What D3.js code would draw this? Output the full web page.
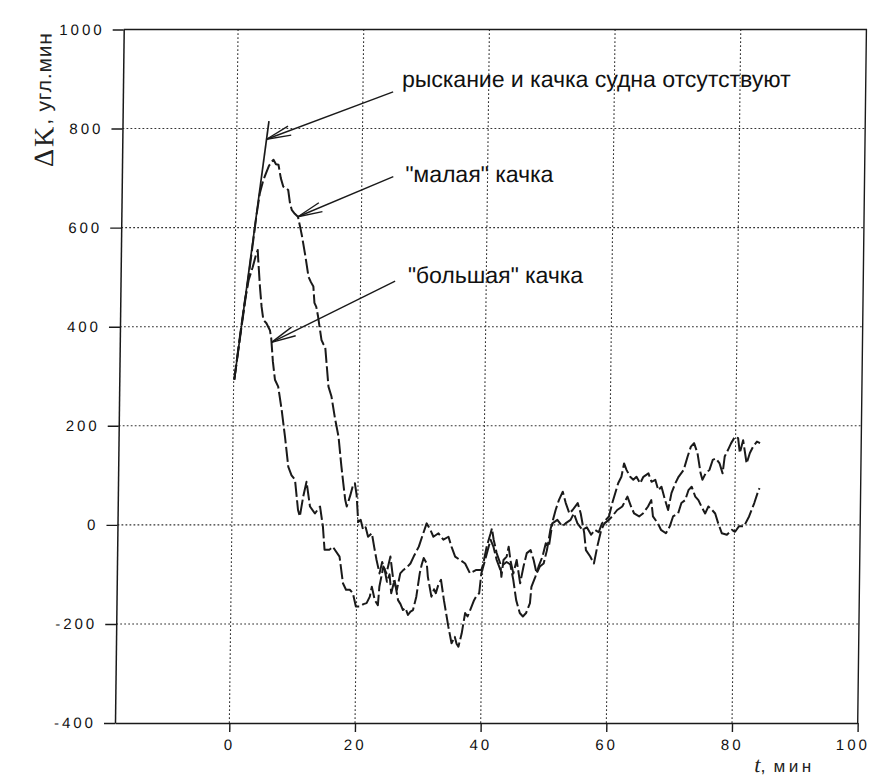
<!DOCTYPE html>
<html>
<head>
<meta charset="utf-8">
<script src="https://cdn.jsdelivr.net/npm/d3@7"></script>
<style>
  html, body { margin: 0; padding: 0; background: #fff; }
  svg { display: block; }
</style>
</head>
<body>
<svg id="chart" width="873" height="778"></svg>
<script>
// Axis ticks
const xTicks = [0, 20, 40, 60, 80, 100];
const yTicks = [-400, -200, 0, 200, 400, 600, 800, 1000];

// Heading error ΔK (угл. мин) against time t (мин)
// no yaw and no rolling
const noMotion = [[0.1, 293], [5.1, 815]];

// "малая" качка
const smallRoll = [
  [0.1, 293], [0.8, 365], [1.6, 445], [2.2, 505], [2.8, 570], [3.3, 625], [3.8, 670],
  [4.3, 695], [4.8, 712], [5.2, 725], [5.6, 733], [5.9, 737], [6.3, 728], [6.7, 727],
  [7.1, 700], [7.5, 683], [7.9, 680], [8.3, 676], [8.6, 650], [8.9, 636], [9.4, 628],
  [9.9, 622], [10.3, 600], [10.6, 582], [11.2, 540], [11.7, 501], [12.1, 490], [12.5, 481],
  [12.7, 448], [13.0, 440], [13.3, 421], [13.9, 373], [14.2, 365], [14.5, 360], [15.1, 279],
  [15.6, 259], [16.2, 215], [16.8, 178], [17.3, 120], [17.65, 84], [18.0, 50], [18.25, 37],
  [18.8, 60], [19.2, 80], [19.5, 84], [19.8, 60], [20.1, 6], [20.5, 10], [20.9, -10],
  [21.3, -5], [21.7, -24], [22.3, -17], [22.7, -45], [23.1, -71], [23.6, -98], [24.0, -75],
  [24.4, -90], [24.8, -115], [25.2, -100], [25.5, -138], [26.0, -111], [26.6, -152],
  [27.0, -160], [27.4, -172], [27.8, -168], [28.2, -182], [28.6, -175], [29.0, -172],
  [29.5, -145], [30.0, -98], [30.3, -80], [30.6, -67], [31.1, -78], [31.3, -105],
  [31.9, -145], [32.3, -130], [32.6, -138], [33.0, -120], [33.4, -111], [33.9, -152],
  [34.3, -180], [34.65, -205], [35.2, -239], [35.7, -226], [36.0, -240], [36.3, -246],
  [36.8, -219], [37.3, -178], [37.7, -185], [38.1, -172], [38.7, -152], [39.0, -145],
  [39.5, -138], [39.8, -98], [40.1, -84], [40.6, -60], [41.2, -30], [41.7, -45],
  [42.2, -70], [42.8, -90], [43.3, -80], [43.8, -75], [44.4, -80], [44.9, -111],
  [45.4, -152], [46.0, -178], [46.5, -185], [47.0, -178], [47.6, -158], [47.8, -125],
  [48.4, -105], [48.9, -84], [49.5, -64], [50.0, -37], [50.5, -44], [51.0, 3], [51.8, 10],
  [52.6, -3], [53.1, 3], [53.9, 10], [54.4, 23], [55.0, 3], [55.8, -10], [56.5, -5],
  [57.2, -20], [57.8, -10], [58.4, -15], [58.9, 3], [59.5, 10], [60.0, 17], [60.5, 44],
  [61.4, 84], [61.9, 97], [62.3, 124], [62.7, 111], [63.3, 97], [63.8, 91], [64.3, 97],
  [64.9, 84], [65.4, 97], [66.2, 104], [66.7, 87], [67.3, 91], [67.8, 70], [68.3, 77],
  [68.9, 50], [69.4, 30], [69.9, 64], [70.5, 84], [71.0, 97], [71.8, 111], [72.4, 138],
  [72.9, 158], [73.4, 165], [73.96, 145], [74.5, 104], [74.8, 91], [75.3, 104],
  [75.9, 111], [76.4, 131], [76.9, 134], [77.5, 124], [78.0, 104], [78.3, 138],
  [78.8, 151], [79.3, 165], [79.9, 178], [80.4, 175], [80.7, 145], [81.2, 171],
  [81.8, 124], [82.3, 145], [82.8, 158], [83.4, 168], [83.9, 165]
];

// "большая" качка
const largeRoll = [
  [0.1, 293], [1.0, 390], [1.64, 454], [2.2, 495], [2.8, 520], [3.3, 545], [3.57, 555],
  [3.67, 535], [4.0, 480], [4.3, 440], [4.6, 414], [5.1, 407], [5.67, 393], [5.9, 376],
  [6.2, 330], [6.57, 293], [7.1, 279], [7.7, 232], [8.28, 178], [8.87, 117], [9.4, 100],
  [9.96, 91], [10.5, 30], [10.8, 17], [11.3, 57], [11.8, 87], [12.4, 37], [13.2, 23],
  [14.0, 37], [14.5, -4], [14.8, -50], [15.6, -50], [16.1, -44], [17.2, -64], [17.8, -118],
  [18.3, -131], [18.9, -131], [19.4, -138], [19.9, -165], [20.5, -165], [21.1, -160],
  [21.6, -158], [22.1, -145], [22.4, -125], [22.9, -152], [23.4, -162], [23.6, -125],
  [24.2, -84], [24.7, -98], [25.3, -64], [25.8, -111], [26.4, -131], [26.9, -98],
  [27.4, -91], [28.0, -85], [28.5, -78], [29.0, -64], [29.8, -44], [30.3, -24], [31.0, 3],
  [31.6, -10], [32.1, -24], [32.9, -17], [33.7, -30], [34.5, -24], [35.0, -44], [35.6, -64],
  [36.4, -71], [37.2, -78], [38.0, -98], [39.0, -91], [39.8, -91], [40.1, -78], [40.6, -44],
  [41.2, -17], [41.4, -7], [41.7, -30], [42.2, -57], [42.8, -78], [43.0, -105], [43.3, -71],
  [43.8, -64], [44.1, -44], [44.4, -71], [44.9, -98], [45.4, -71], [46.0, -118], [46.5, -84],
  [47.0, -57], [47.6, -51], [48.1, -71], [48.6, -98], [49.1, -84], [49.7, -78], [50.2, -51],
  [50.7, -10], [51.5, 30], [52.0, 50], [52.6, 67], [53.1, 44], [53.7, 23], [54.2, 30],
  [55.0, 44], [55.5, 23], [56.1, -17], [56.4, -51], [57.1, -64], [57.7, -78], [58.2, -44],
  [58.8, -10], [59.3, 3], [60.0, 10], [60.5, 17], [61.3, 30], [62.1, 37], [62.9, 57],
  [63.5, 37], [64.0, 23], [64.8, 17], [65.4, 23], [66.2, 37], [66.7, 50], [67.0, 17],
  [67.8, 3], [68.3, -10], [69.1, -17], [69.7, -3], [70.2, 17], [71.0, 23], [71.5, 44],
  [72.1, 50], [72.6, 70], [73.1, 77], [73.7, 57], [74.2, 50], [74.7, 37], [75.3, 23],
  [75.8, 37], [76.4, 30], [76.9, 23], [77.4, 3], [78.0, -17], [78.8, -20], [79.6, -10],
  [80.1, -14], [80.7, -3], [81.5, -3], [82.3, 17], [83.1, 44], [83.6, 64], [83.9, 74]
];

// Callouts: label position and arrow start in data units, arrow tip on a curve at time tipT
const notes = [
  { text: "рыскание и качка судна отсутствуют", series: noMotion, tipT: 4.75,
    labelT: 26.2, labelV: 884, fromT: 24.8, fromV: 874 },
  { text: "\"малая\" качка", series: smallRoll, tipT: 9.9,
    labelT: 26.9, labelV: 693, fromT: 25.0, fromV: 703 },
  { text: "\"большая\" качка", series: largeRoll, tipT: 5.95,
    labelT: 27.5, labelV: 489, fromT: 25.5, fromV: 492 }
];

const ink = "#1a1a1a";
const svg = d3.select("#chart");

const x = d3.scaleLinear().domain([-18.2, 100]).range([115, 857.7]);
const y = d3.scaleLinear().domain([-400, 1000]).range([723, 29.5]);

const baseY = y(-400);
// whole drawing leans slightly to the right
const g = svg.append("g")
  .attr("transform", `translate(0,${baseY}) skewX(-0.72) translate(0,${-baseY})`);

const [x0, x1] = x.range();
const [yB, yT] = y.range();

// dotted grid
g.append("g").selectAll("line")
  .data(yTicks.filter(v => v > -400 && v < 1000))
  .join("line")
  .attr("x1", x0).attr("x2", x1)
  .attr("y1", d => y(d)).attr("y2", d => y(d))
  .attr("stroke", "#333").attr("stroke-width", 1.1)
  .attr("stroke-dasharray", "1.8,2.2");

g.append("g").selectAll("line")
  .data(xTicks.filter(v => v < 100))
  .join("line")
  .attr("x1", d => x(d)).attr("x2", d => x(d))
  .attr("y1", yB).attr("y2", yT)
  .attr("stroke", "#333").attr("stroke-width", 1.1)
  .attr("stroke-dasharray", "1.8,2.2");

// frame (top and right)
g.append("path")
  .attr("d", `M${x0},${yT}H${x1}V${yB}`)
  .attr("fill", "none").attr("stroke", ink).attr("stroke-width", 1.4);

// axes
const tickFont = "'Liberation Sans', Arial, sans-serif";
const yAxis = d3.axisLeft(y).tickValues(yTicks).tickSize(11).tickSizeOuter(0)
  .tickPadding(8).tickFormat(d => String(d));
const gy = g.append("g").attr("transform", `translate(${x0},0)`).call(yAxis);

const xAxis = d3.axisBottom(x).tickValues(xTicks).tickSize(9).tickSizeOuter(0)
  .tickPadding(7).tickFormat(d => String(d));
const gx = g.append("g").attr("transform", `translate(0,${yB})`).call(xAxis);

[gx, gy].forEach(a => {
  a.select(".domain").attr("stroke", ink).attr("stroke-width", 1.5);
  a.selectAll(".tick line").attr("stroke", ink).attr("stroke-width", 1.4);
  a.selectAll(".tick text")
    .attr("fill", "#111")
    .style("font-family", tickFont)
    .style("font-size", "15px")
    .style("letter-spacing", "3px");
});

// last x label sits at the right edge: right-align it instead of centring
gx.selectAll(".tick text")
  .filter(d => d === xTicks[xTicks.length - 1])
  .attr("text-anchor", "end")
  .attr("x", 12);

// curves
const line = d3.line().x(d => x(d[0])).y(d => y(d[1]));

g.append("path").datum(noMotion)
  .attr("d", line).attr("fill", "none")
  .attr("stroke", ink).attr("stroke-width", 1.7);

[smallRoll, largeRoll].forEach(s => {
  g.append("path").datum(s)
    .attr("d", line).attr("fill", "none")
    .attr("stroke", ink).attr("stroke-width", 2)
    .attr("stroke-linejoin", "round")
    .attr("stroke-dasharray", "15,3.5");
});

// callouts
function valueAt(series, t) {
  for (let i = 1; i < series.length; i++) {
    const [ta, va] = series[i - 1], [tb, vb] = series[i];
    if (t <= tb) return va + (vb - va) * (t - ta) / (tb - ta);
  }
  return series[series.length - 1][1];
}

notes.forEach(n => {
  const tx = x(n.tipT), ty = y(valueAt(n.series, n.tipT));
  const sx = x(n.fromT), sy = y(n.fromV);
  g.append("line")
    .attr("x1", sx).attr("y1", sy).attr("x2", tx).attr("y2", ty)
    .attr("stroke", ink).attr("stroke-width", 1.4);
  const ang = Math.atan2(sy - ty, sx - tx);
  const len = 25, spread = 11 * Math.PI / 180;
  [-spread, spread].forEach(da => {
    g.append("line")
      .attr("x1", tx).attr("y1", ty)
      .attr("x2", tx + len * Math.cos(ang + da))
      .attr("y2", ty + len * Math.sin(ang + da))
      .attr("stroke", ink).attr("stroke-width", 1.4);
  });
  g.append("text")
    .attr("x", x(n.labelT)).attr("y", y(n.labelV))
    .attr("fill", "#111")
    .style("font-family", tickFont)
    .style("font-size", "23px")
    .text(n.text);
});

// axis titles
const yt = g.append("text")
  .attr("transform", "translate(46,167) rotate(-90)")
  .attr("fill", "#222");
yt.append("tspan").text("ΔK")
  .style("font-family", "'Liberation Serif', 'Times New Roman', serif")
  .style("font-size", "28px").style("letter-spacing", "2px");
yt.append("tspan").text(", угл.мин").attr("dy", -3)
  .style("font-family", tickFont)
  .style("font-size", "21px").style("letter-spacing", "0.8px");

const xt = g.append("text").attr("x", 755).attr("y", 772).attr("fill", "#222");
xt.append("tspan").text("t")
  .style("font-family", "'Liberation Serif', 'Times New Roman', serif")
  .style("font-style", "italic").style("font-size", "22px");
xt.append("tspan").text(",")
  .style("font-family", tickFont).style("font-size", "18px");
xt.append("tspan").text("мин").attr("dx", 8)
  .style("font-family", tickFont)
  .style("font-size", "17px").style("letter-spacing", "3.5px");
</script>
</body>
</html>
